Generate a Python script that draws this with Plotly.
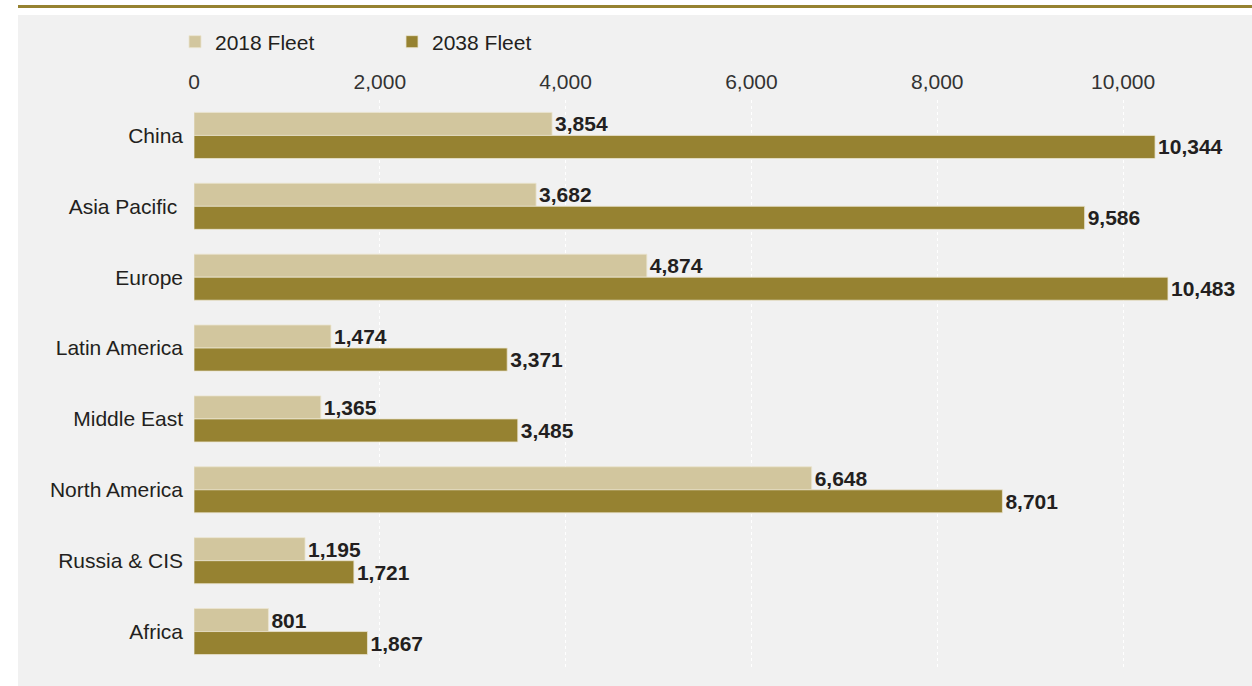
import plotly.graph_objects as go

regions = ["China", "Asia Pacific\u00a0", "Europe", "Latin America", "Middle East",
           "North America", "Russia & CIS", "Africa"]
fleet_2018 = [3854, 3682, 4874, 1474, 1365, 6648, 1195, 801]
fleet_2038 = [10344, 9586, 10483, 3371, 3485, 8701, 1721, 1867]
x_ticks = [0, 2000, 4000, 6000, 8000, 10000]

light_gold = "#d2c69e"
dark_gold = "#968231"
text_dark = "#231f20"
font_family = "Liberation Sans, Arial, sans-serif"

W, H = 1252, 686
L, R, T, B = 194, 36, 100, 19
plot_w, plot_h = W - L - R, H - T - B


def px_x(px):
    """Convert a horizontal pixel position to paper coordinates."""
    return (px - L) / plot_w


def px_y(px):
    """Convert a vertical pixel position (from the top) to paper coordinates."""
    return (H - B - px) / plot_h


fig = go.Figure()
for name, vals, color in [("2018 Fleet", fleet_2018, light_gold),
                          ("2038 Fleet", fleet_2038, dark_gold)]:
    fig.add_trace(go.Bar(
        name=name, y=regions, x=vals, orientation="h",
        marker=dict(color=color, line=dict(color="#ebe4cf", width=0.8)),
        texttemplate="%{x:,}", textposition="outside", cliponaxis=False,
        textfont=dict(family=font_family, size=21, color=text_dark, weight="bold"),
        hoverinfo="skip",
    ))

# grey panel and gold rule across the top
fig.add_shape(type="rect", xref="paper", yref="paper",
              x0=px_x(18), x1=px_x(W + 5), y0=px_y(H + 5), y1=px_y(15),
              fillcolor="#f1f1f1", line=dict(width=0), layer="below")
fig.add_shape(type="rect", xref="paper", yref="paper",
              x0=px_x(18), x1=px_x(W + 5), y0=px_y(8), y1=px_y(5),
              fillcolor=dark_gold, line=dict(width=0), layer="below")

fig.update_layout(
    width=W, height=H,
    margin=dict(l=L, r=R, t=T, b=B),
    paper_bgcolor="white", plot_bgcolor="rgba(0,0,0,0)",
    barmode="group", bargap=0.35, bargroupgap=0,
    font=dict(family=font_family, size=21, color=text_dark),
    showlegend=True,
    legend=dict(orientation="h", x=px_x(175), xanchor="left",
                y=px_y(42), yanchor="middle",
                font=dict(size=21, color=text_dark), entrywidth=172,
                bgcolor="rgba(0,0,0,0)", traceorder="normal"),
    xaxis=dict(side="top", range=[0, 11000], tickvals=x_ticks,
               tickformat=",", showgrid=True, gridcolor="white", griddash="dot",
               gridwidth=1, zeroline=False, showline=False, ticks="",
               ticklabelstandoff=6, tickfont=dict(size=21, color="#333333")),
    yaxis=dict(autorange="reversed", showgrid=False, zeroline=False,
               showline=False, ticks="", ticklabelstandoff=10,
               tickfont=dict(size=21, color=text_dark)),
)

fig.write_html("out.html")
